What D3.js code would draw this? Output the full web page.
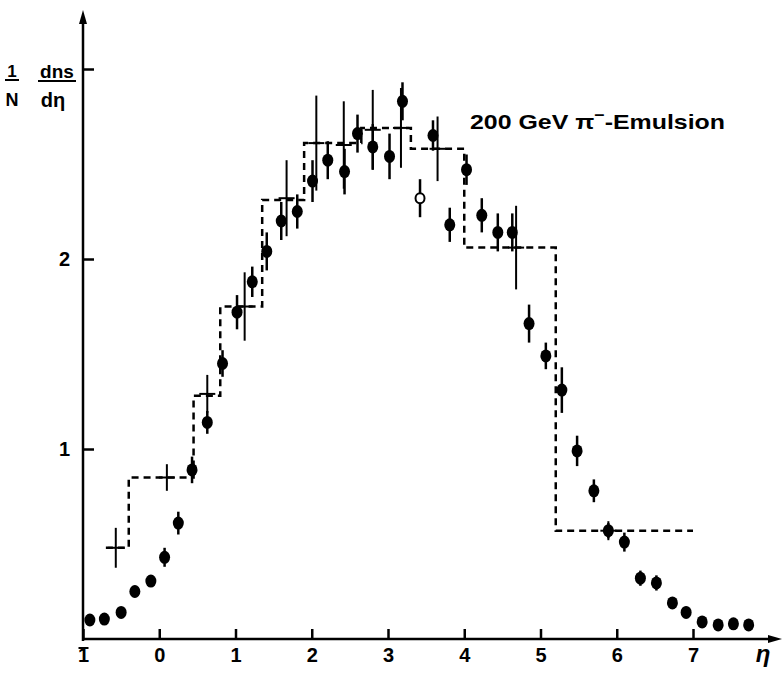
<!DOCTYPE html>
<html>
<head>
<meta charset="utf-8">
<script src="https://cdn.jsdelivr.net/npm/d3@7"></script>
<style>
  body { margin: 0; background: #fff; }
  text { font-family: "Liberation Sans", Arial, sans-serif; fill: #000; }
</style>
</head>
<body>
<div id="chart"></div>
<script>
// filled points (emulsion data)
var etaPts = [-0.91, -0.72, -0.50, -0.32, -0.11, 0.07, 0.25, 0.43, 0.63, 0.83, 1.02, 1.22, 1.41, 1.60, 1.81,
              2.01, 2.21, 2.43, 2.60, 2.80, 3.02, 3.19, 3.42, 3.59, 3.81, 4.03, 4.23, 4.44, 4.63, 4.85,
              5.07, 5.28, 5.48, 5.70, 5.89, 6.10, 6.31, 6.52, 6.73, 6.91, 7.12, 7.33, 7.53, 7.73];
var valPts = [0.10, 0.105, 0.14, 0.25, 0.305, 0.43, 0.61, 0.89, 1.14, 1.45, 1.72, 1.88, 2.04, 2.20, 2.25,
              2.41, 2.52, 2.46, 2.66, 2.59, 2.54, 2.83, 2.32, 2.65, 2.18, 2.47, 2.23, 2.14, 2.14, 1.66,
              1.49, 1.31, 0.99, 0.78, 0.57, 0.51, 0.32, 0.295, 0.19, 0.14, 0.09, 0.074, 0.08, 0.074];
var errPts = [0.02, 0.02, 0.02, 0.03, 0.03, 0.05, 0.06, 0.07, 0.06, 0.07, 0.09, 0.08, 0.10, 0.10, 0.09,
              0.11, 0.10, 0.12, 0.10, 0.12, 0.12, 0.10, 0.10, 0.08, 0.09, 0.08, 0.09, 0.10, 0.10, 0.10,
              0.07, 0.12, 0.08, 0.06, 0.04, 0.05, 0.04, 0.04, 0.03, 0.03, 0.01, 0.01, 0.01, 0.01];
var openPts = [3.42];

// crosses (no marker)
var crossEta = [-0.57, 0.10, 0.63, 1.12, 1.67, 2.06, 2.42, 2.80, 3.17, 3.65, 4.68, 5.89];
var crossVal = [0.48, 0.85, 1.29, 1.75, 2.32, 2.61, 2.60, 2.68, 2.69, 2.58, 2.06, 0.57];
var crossErr = [0.105, 0.07, 0.10, 0.18, 0.20, 0.25, 0.23, 0.21, 0.21, 0.17, 0.22, 0.05];

// dashed histogram
var histEdges = [-0.7, -0.4, 0.45, 0.8, 1.35, 1.9, 2.65, 3.3, 4.0, 5.2, 7.0];
var histVals = [0.48, 0.85, 1.28, 1.75, 2.31, 2.61, 2.69, 2.58, 2.06, 0.57];

var xTicks = [-1, 0, 1, 2, 3, 4, 5, 6, 7];
var yTicks = [1, 2, 3];
var titleText = "200 GeV π";

var width = 784, height = 674;
var svg = d3.select('#chart').append('svg').attr('width', width).attr('height', height);

var x = d3.scaleLinear().domain([-1, 7]).range([83, 693]);
var y = d3.scaleLinear().domain([0, 3]).range([639, 69]);

// x axis, ticks point up
var xAxis = svg.append('g')
    .attr('transform', 'translate(0,' + y(0) + ')')
    .call(d3.axisBottom(x).tickValues(xTicks).tickSize(-10).tickPadding(9)
        .tickFormat(function (d) { return d < 0 ? '1' : d; }));
xAxis.select('.domain').remove();
xAxis.selectAll('line').attr('stroke', '#000').attr('stroke-width', 2.5);
xAxis.selectAll('text').attr('font-size', 20).attr('font-weight', 'bold').attr('fill', '#000');
// bar over the 1 for minus one
xAxis.selectAll('.tick').filter(function (d) { return d < 0; })
    .append('line').attr('x1', -5).attr('x2', 5).attr('y1', 9).attr('y2', 9)
    .attr('stroke', '#000').attr('stroke-width', 2);

// y axis, ticks point right
var yAxis = svg.append('g')
    .attr('transform', 'translate(' + x(-1) + ',0)')
    .call(d3.axisLeft(y).tickValues(yTicks).tickSize(-11).tickPadding(13)
        .tickFormat(function (d) { return d == 3 ? '' : d; }));
yAxis.select('.domain').remove();
yAxis.selectAll('line').attr('stroke', '#000').attr('stroke-width', 2.5);
yAxis.selectAll('text').attr('font-size', 20).attr('font-weight', 'bold').attr('fill', '#000');

// axis lines with arrows
svg.append('line').attr('x1', x(-1)).attr('y1', y(0) + 2).attr('x2', x(-1)).attr('y2', 22)
    .attr('stroke', '#000').attr('stroke-width', 2.5);
svg.append('path').attr('d', 'M' + x(-1) + ',10 l-4,14 l8,0 z').attr('fill', '#000');
svg.append('line').attr('x1', x(-1) - 1).attr('y1', y(0)).attr('x2', 770).attr('y2', y(0))
    .attr('stroke', '#000').attr('stroke-width', 2.5);
svg.append('path').attr('d', 'M782,' + y(0) + ' l-14,-4 l0,8 z').attr('fill', '#000');

svg.append('text').attr('x', 763).attr('y', 662).attr('text-anchor', 'middle')
    .attr('font-size', 24).attr('font-style', 'italic').attr('font-weight', 'bold').text('η');

// y title: 1/N dns/dη
var yt = svg.append('g').attr('font-weight', 'bold');
yt.append('text').attr('x', 12).attr('y', 77).attr('text-anchor', 'middle').attr('font-size', 17).text('1');
yt.append('line').attr('x1', 5).attr('x2', 19).attr('y1', 80).attr('y2', 80).attr('stroke', '#000').attr('stroke-width', 2);
yt.append('text').attr('x', 12).attr('y', 106).attr('text-anchor', 'middle').attr('font-size', 18).text('N');
yt.append('text').attr('x', 57).attr('y', 78).attr('text-anchor', 'middle').attr('font-size', 19).text('dns');
yt.append('line').attr('x1', 38).attr('x2', 76).attr('y1', 81).attr('y2', 81).attr('stroke', '#000').attr('stroke-width', 2);
yt.append('text').attr('x', 53).attr('y', 107).attr('text-anchor', 'middle').attr('font-size', 20).text('dη');

// title
var tt = svg.append('text').attr('x', 470).attr('y', 129).attr('font-size', 21).attr('font-weight', 'bold')
    .attr('textLength', 255).attr('lengthAdjust', 'spacingAndGlyphs');
tt.append('tspan').text(titleText);
tt.append('tspan').attr('dy', -9).attr('font-size', 15).text('−');
tt.append('tspan').attr('dy', 9).text('-Emulsion');

// histogram
var histPts = histEdges.map(function (e, i) {
    return [e, histVals[Math.min(i, histVals.length - 1)]];
});
svg.append('path')
    .attr('d', d3.line().x(function (d) { return x(d[0]); }).y(function (d) { return y(d[1]); })
        .curve(d3.curveStepAfter)(histPts))
    .attr('fill', 'none').attr('stroke', '#000').attr('stroke-width', 2.5)
    .attr('stroke-dasharray', '7,5');

// crosses
var crosses = crossEta.map(function (e, i) { return { eta: e, v: crossVal[i], err: crossErr[i] }; });
var cg = svg.append('g').attr('stroke', '#000').attr('stroke-width', 2);
cg.selectAll('.cv').data(crosses).enter().append('line')
    .attr('x1', function (d) { return x(d.eta); }).attr('x2', function (d) { return x(d.eta); })
    .attr('y1', function (d) { return y(d.v + d.err); }).attr('y2', function (d) { return y(d.v - d.err); });
cg.selectAll('.ch').data(crosses).enter().append('line')
    .attr('x1', function (d) { return x(d.eta) - 8; }).attr('x2', function (d) { return x(d.eta) + 8; })
    .attr('y1', function (d) { return y(d.v); }).attr('y2', function (d) { return y(d.v); });

// points with error bars
var pts = etaPts.map(function (e, i) {
    return { eta: e, v: valPts[i], err: errPts[i], open: openPts.indexOf(e) >= 0 };
});
svg.selectAll('.eb').data(pts).enter().append('line')
    .attr('x1', function (d) { return x(d.eta); }).attr('x2', function (d) { return x(d.eta); })
    .attr('y1', function (d) { return y(d.v + d.err); }).attr('y2', function (d) { return y(d.v - d.err); })
    .attr('stroke', '#000').attr('stroke-width', 2.5);
svg.selectAll('.pt').data(pts).enter().append('ellipse')
    .attr('cx', function (d) { return x(d.eta); })
    .attr('cy', function (d) { return y(d.v); })
    .attr('rx', function (d) { return d.open ? 4.5 : 5.5; })
    .attr('ry', function (d) { return d.open ? 5 : 6.5; })
    .attr('fill', function (d) { return d.open ? '#fff' : '#000'; })
    .attr('stroke', '#000').attr('stroke-width', function (d) { return d.open ? 2 : 0; });
</script>
</body>
</html>
